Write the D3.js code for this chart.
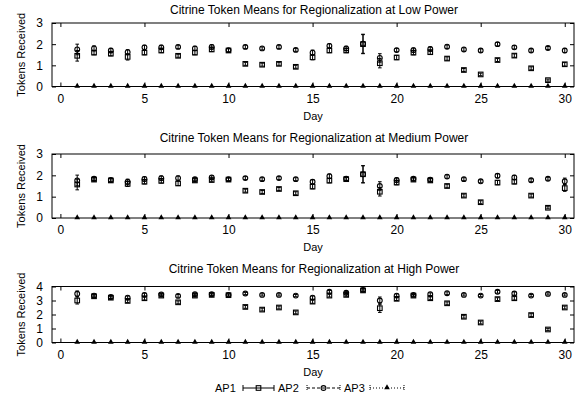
<!DOCTYPE html>
<html><head><meta charset="utf-8">
<script src="https://cdn.jsdelivr.net/npm/d3@7"></script>
<style>body{margin:0;background:#fff}svg{display:block}text{font-family:"Liberation Sans",Arial,sans-serif;fill:#000}</style>
</head><body><svg id="c" width="587" height="400"></svg>
<script>
const days = d3.range(1, 31);
const xTicks = [0, 5, 10, 15, 20, 25, 30];
const seriesNames = ["AP1", "AP2", "AP3"];
const panelTitles = [
  "Citrine Token Means for Regionalization at Low Power",
  "Citrine Token Means for Regionalization at Medium Power",
  "Citrine Token Means for Regionalization at High Power"
];
const yTicksLow = [0, 1, 2, 3];
const yTicksMed = [0, 1, 2, 3];
const yTicksHigh = [0, 1, 2, 3, 4];

// Low power
const lowAP1 = [1.45,1.6,1.55,1.4,1.6,1.7,1.45,1.6,1.75,1.7,1.07,1.03,1.07,0.93,1.38,1.7,1.7,2.0,1.1,1.37,1.6,1.62,1.32,0.78,0.57,1.25,1.46,0.86,0.3,1.05];
const lowAP1err = [0.25,0.1,0.1,0.15,0.1,0.1,0.07,0.1,0.1,0.08,0.07,0.07,0.07,0.07,0.12,0.1,0.1,0.45,0.22,0.1,0.1,0.1,0.08,0.07,0.06,0.07,0.08,0.07,0.05,0.08];
const lowAP2 = [1.75,1.8,1.7,1.62,1.85,1.85,1.87,1.8,1.87,1.72,1.87,1.8,1.87,1.73,1.6,1.92,1.8,2.02,1.35,1.72,1.72,1.77,1.88,1.75,1.7,2.0,1.85,1.7,1.82,1.7];
const lowAP2err = [0.25,0.12,0.1,0.12,0.1,0.1,0.08,0.1,0.1,0.08,0.08,0.07,0.08,0.07,0.12,0.1,0.1,0.45,0.2,0.08,0.1,0.1,0.08,0.08,0.08,0.08,0.08,0.08,0.07,0.1];
const lowAP3 = days.map(() => 0);

// Medium power
const medAP1 = [1.57,1.8,1.76,1.6,1.7,1.74,1.62,1.76,1.78,1.8,1.28,1.22,1.36,1.16,1.47,1.75,1.82,2.05,1.23,1.66,1.8,1.76,1.5,1.05,0.74,1.66,1.7,1.05,0.48,1.4];
const medAP1err = [0.25,0.08,0.08,0.12,0.1,0.1,0.1,0.08,0.08,0.07,0.07,0.07,0.07,0.07,0.1,0.1,0.08,0.4,0.2,0.1,0.07,0.08,0.08,0.07,0.07,0.1,0.1,0.07,0.05,0.15];
const medAP2 = [1.76,1.84,1.78,1.7,1.83,1.87,1.87,1.82,1.9,1.82,1.87,1.82,1.87,1.82,1.7,1.96,1.84,2.05,1.5,1.78,1.84,1.8,1.94,1.82,1.72,1.98,1.9,1.77,1.84,1.72];
const medAP2err = [0.25,0.08,0.08,0.12,0.1,0.1,0.1,0.08,0.08,0.07,0.07,0.07,0.07,0.07,0.1,0.1,0.08,0.4,0.2,0.1,0.07,0.08,0.08,0.07,0.07,0.1,0.1,0.07,0.07,0.15];
const medAP3 = days.map(() => 0);

// High power
const highAP1 = [3.0,3.3,3.2,2.97,3.16,3.35,2.87,3.35,3.4,3.38,2.54,2.35,2.5,2.15,2.92,3.35,3.4,3.72,2.45,3.12,3.35,3.16,2.8,1.84,1.43,3.1,3.16,1.96,0.93,2.5];
const highAP1err = [0.25,0.1,0.1,0.12,0.12,0.1,0.1,0.1,0.08,0.08,0.1,0.1,0.1,0.1,0.12,0.1,0.1,0.1,0.3,0.12,0.08,0.1,0.1,0.1,0.1,0.1,0.12,0.1,0.08,0.1];
const highAP2 = [3.48,3.35,3.25,3.2,3.4,3.44,3.33,3.45,3.45,3.4,3.5,3.4,3.4,3.35,3.2,3.62,3.55,3.76,3.0,3.35,3.4,3.45,3.52,3.4,3.35,3.62,3.5,3.35,3.47,3.4];
const highAP2err = [0.2,0.1,0.1,0.12,0.12,0.1,0.1,0.1,0.08,0.08,0.08,0.08,0.08,0.08,0.12,0.1,0.1,0.1,0.25,0.12,0.08,0.1,0.1,0.08,0.08,0.1,0.12,0.08,0.08,0.08];
const highAP3 = days.map(() => 0);

const panels = [
  {title: panelTitles[0], top: 23, bottom: 86.5, ymax: 3, yTicks: yTicksLow, titleY: 13.5,
   series: [[lowAP1, lowAP1err], [lowAP2, lowAP2err], [lowAP3, null]]},
  {title: panelTitles[1], top: 154, bottom: 218, ymax: 3, yTicks: yTicksMed, titleY: 141.5,
   series: [[medAP1, medAP1err], [medAP2, medAP2err], [medAP3, null]]},
  {title: panelTitles[2], top: 286.5, bottom: 342.5, ymax: 4, yTicks: yTicksHigh, titleY: 273,
   series: [[highAP1, highAP1err], [highAP2, highAP2err], [highAP3, null]]}
];

const svg = d3.select("#c");
const left = 52, right = 574;
const x = d3.scaleLinear().domain([-0.5, 30.55]).range([left, right]);
const dashes = [null, "3,2", "1,2"];

function marker(g, k, cx, cy) {
  if (k === 0) {
    g.append("rect").attr("x", cx - 2.3).attr("y", cy - 2.3).attr("width", 4.6).attr("height", 4.6)
      .attr("fill", "none").attr("stroke", "#000").attr("stroke-width", 1.1);
  } else if (k === 1) {
    g.append("circle").attr("cx", cx).attr("cy", cy).attr("r", 2.4)
      .attr("fill", "none").attr("stroke", "#000").attr("stroke-width", 1.1);
  } else {
    g.append("path").attr("d", d3.symbol(d3.symbolTriangle, 14)())
      .attr("transform", `translate(${cx},${cy - 0.5})`).attr("fill", "#000");
  }
}

panels.forEach(p => {
  const y = d3.scaleLinear().domain([0, p.ymax]).range([p.bottom, p.top]);
  const g = svg.append("g");
  g.append("text").attr("x", (left + right) / 2 + 1).attr("y", p.titleY).attr("text-anchor", "middle")
    .attr("font-size", 12).text(p.title);
  const gx = g.append("g").attr("transform", `translate(0,${p.bottom})`)
    .call(d3.axisBottom(x).tickValues(xTicks).tickSizeInner(-4).tickSizeOuter(0).tickPadding(9));
  const gxt = g.append("g").attr("transform", `translate(0,${p.top})`)
    .call(d3.axisTop(x).tickValues(xTicks).tickSizeInner(-4).tickSizeOuter(0).tickFormat(""));
  const gy = g.append("g").attr("transform", `translate(${left},0)`)
    .call(d3.axisLeft(y).tickValues(p.yTicks).tickSizeInner(-4).tickSizeOuter(0).tickPadding(9).tickFormat(d3.format("d")));
  const gyr = g.append("g").attr("transform", `translate(${right},0)`)
    .call(d3.axisRight(y).tickValues(p.yTicks).tickSizeInner(-4).tickSizeOuter(0).tickFormat(""));
  [gx, gxt, gy, gyr].forEach(a => {
    a.select(".domain").remove();
    a.selectAll("line").attr("stroke", "#000");
    a.selectAll("text").attr("font-size", 12).attr("font-family", "Liberation Sans, Arial, sans-serif").attr("fill", "#000");
  });
  gx.selectAll("text").attr("dy", "0.71em").attr("y", 7.5);
  g.append("rect").attr("x", left).attr("y", p.top).attr("width", right - left).attr("height", p.bottom - p.top)
    .attr("fill", "none").attr("stroke", "#000").attr("stroke-width", 1);
  g.append("text").attr("transform", `translate(24.5,${(p.top + p.bottom) / 2}) rotate(-90)`)
    .attr("text-anchor", "middle").attr("font-size", 11).text("Tokens Received");
  g.append("text").attr("x", (left + right) / 2).attr("y", p.bottom + 33).attr("text-anchor", "middle")
    .attr("font-size", 11).text("Day");
  p.series.forEach(([vals, errs], k) => {
    const sg = g.append("g");
    vals.forEach((v, i) => {
      const cx = x(days[i]), cy = y(v);
      if (errs) {
        const e = errs[i];
        const y1 = y(v - e), y2 = y(v + e);
        sg.append("line").attr("x1", cx).attr("x2", cx).attr("y1", y1).attr("y2", y2).attr("stroke", "#000");
        [y1, y2].forEach(yy => sg.append("line").attr("x1", cx - 1.8).attr("x2", cx + 1.8).attr("y1", yy).attr("y2", yy).attr("stroke", "#000"));
      }
      marker(sg, k, cx, cy);
    });
  });
});

// legend
const legY = 388;
const legItems = [{tx: 215, l1: 243, l2: 274}, {tx: 278, l1: 307, l2: 340}, {tx: 344, l1: 370, l2: 404}];
seriesNames.forEach((n, k) => {
  const it = legItems[k];
  const lg = svg.append("g");
  lg.append("text").attr("x", it.tx).attr("y", legY + 4).attr("font-size", 11).text(n);
  lg.append("line").attr("x1", it.l1).attr("x2", it.l2).attr("y1", legY).attr("y2", legY)
    .attr("stroke", "#000").attr("stroke-dasharray", dashes[k]);
  [it.l1, it.l2].forEach(xx => lg.append("line").attr("x1", xx).attr("x2", xx).attr("y1", legY - 3).attr("y2", legY + 3)
    .attr("stroke", "#000").attr("stroke-dasharray", dashes[k] ? "1,1" : null));
  marker(lg, k, (it.l1 + it.l2) / 2, legY);
});
</script></body></html>
